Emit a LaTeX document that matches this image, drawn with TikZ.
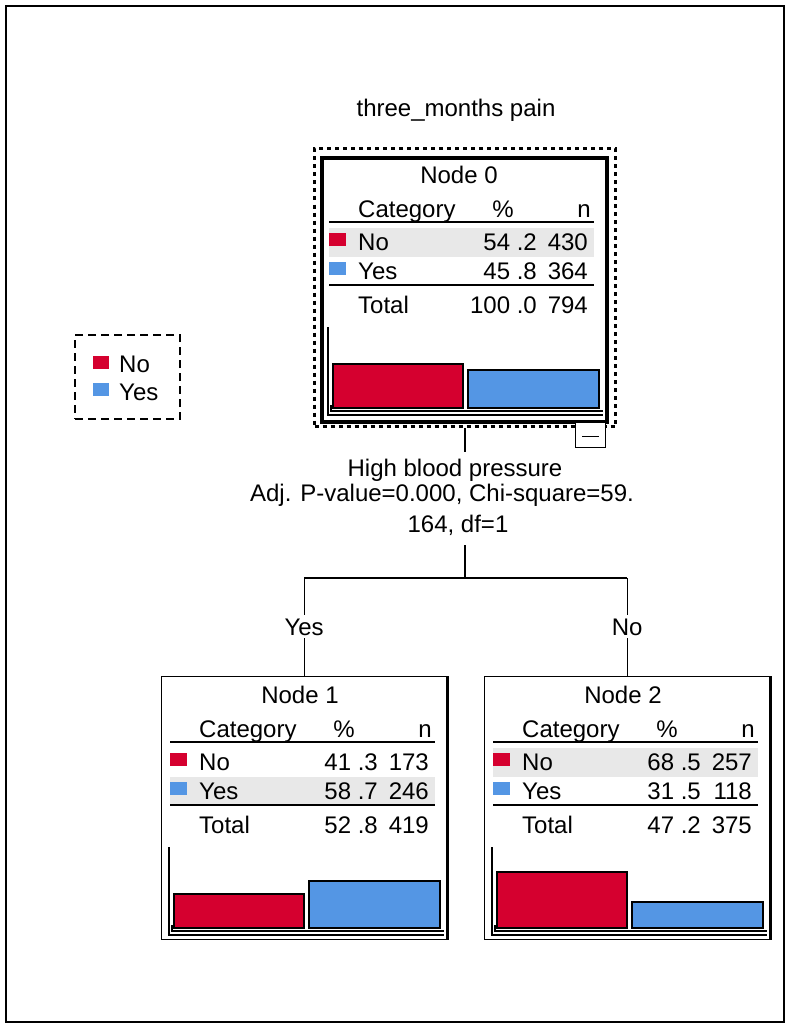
\documentclass[tikz,border=0pt]{standalone}
\usepackage{fontspec}
\setmainfont{Liberation Sans}
\definecolor{spssred}{RGB}{213,0,47}
\definecolor{spssblue}{RGB}{84,150,228}
\definecolor{bandgray}{RGB}{232,232,232}
% #1 name, #2 title, #3 band top, #4 p1, #5 n1, #6 p2, #7 n2, #8 total p, #9 total n
\newcommand\chaidtable[9]{%
  \fill[bandgray] (9,#3) rectangle (274,#3+29);
  \node[ct] (#1t) at (139,27) {#2};
  \node[lt] (#1c) at (38,61) {Category};
  \node[ct] (#1p) at (183,61) {\%};
  \node[rt] (#1n) at (271,61) {n};
  \draw[rule] (9,66) -- (274,66);
  \fill[spssred] (9,77) rectangle (26,90);
  \node[lt] (#1a) at (38,94) {No};
  \node[rt] (#1ap) at (217,94) {#4};
  \node[rt] (#1an) at (268,94) {#5};
  \fill[spssblue] (9,106) rectangle (26,119);
  \node[lt] (#1b) at (38,123) {Yes};
  \node[rt] (#1bp) at (217,123) {#6};
  \node[rt] (#1bn) at (268,123) {#7};
  \draw[rule] (9,129) -- (274,129);
  \node[lt] (#1s) at (38,157) {Total};
  \node[rt] (#1sp) at (217,157) {#8};
  \node[rt] (#1sn) at (268,157) {#9};
  \draw[axis] (8,171) -- (8,259) -- (283,259);
  \draw[axis] (11,249) -- (11,255) -- (283,255);
  \draw[bar, fill=spssred] (13,252) rectangle (143,252-\redh);
  \draw[bar, fill=spssblue] (148,252) rectangle (279,252-\blueh);
}
\begin{document}
\begin{tikzpicture}[x=1pt,y=-1pt,
  txt/.style={font=\fontsize{24}{27}\selectfont, inner sep=0pt},
  ct/.style={txt,anchor=base},
  lt/.style={txt,anchor=base west},
  rt/.style={txt,anchor=base east},
  lab/.style={font=\fontsize{24}{27}\selectfont, inner xsep=0pt, inner ysep=8pt, anchor=base},
  brlab/.style={font=\fontsize{24}{27}\selectfont, inner xsep=0pt, inner ysep=3pt, anchor=base},
  rule/.style={line width=1.5pt},
  axis/.style={line width=1.1pt},
  conn/.style={line width=1.3pt},
  nbox/.style={draw, line width=1.3pt, minimum width=285pt, minimum height=263pt, anchor=north west, inner sep=0pt},
  bar/.style={draw=black, line width=1.3pt},
]
\useasboundingbox (0,0) rectangle (790,1025);
\draw[line width=2pt] (6,6) rectangle (784,1022);

% title
\node[ct] (title) at (456,116) {three\_months pain};

% legend
\node[draw, line width=2pt, dash pattern=on 8pt off 5pt, minimum width=105pt, minimum height=84pt, anchor=north west, inner sep=0pt] (legend) at (74,334) {};
\fill[spssred] (93,356) rectangle (109,369);
\node[lt] (legno) at (119,372) {No};
\fill[spssblue] (93,383) rectangle (109,396);
\node[lt] (legyes) at (119,400) {Yes};

% node 0
\node[draw, line width=3pt, dash pattern=on 4pt off 4pt, minimum width=301pt, minimum height=278pt, anchor=north west, inner sep=0pt] (n0dot) at (313,147) {};
\begin{scope}[shift={(320,156)}]
  \node[nbox, line width=4pt, minimum height=264pt] (n0) at (0,0) {};
  \def\redh{44}\def\blueh{38}
  \chaidtable{n0}{Node 0}{72}{54 .2}{430}{45 .8}{364}{100 .0}{794}
\end{scope}
\node[draw, fill=white, line width=1.3pt, minimum width=30pt, minimum height=25pt, anchor=north west, inner sep=0pt] (n0minus) at (575,422) {};
\draw[line width=1.3pt] ([xshift=-8.5pt,yshift=-1.5pt]n0minus.center) -- ++(17,0);

% split labels
\node[lab, inner ysep=6pt] (sp1) at (455,476) {High blood pressure};
\node[lab] (sp2) at (442,501) {Adj. P-value=0.000, Chi-square=59.};
\node[lab, inner ysep=10pt] (sp3) at (458,532) {164, df=1};
\coordinate (hbaux) at (0,578);

% node 1
\begin{scope}[shift={(161,676)}]
  \node[nbox] (n1) at (0,0) {};
  \draw[line width=2.5pt] (n1.north east) -- (n1.south east);
  \def\redh{34}\def\blueh{47}
  \chaidtable{n1}{Node 1}{101}{41 .3}{173}{58 .7}{246}{52 .8}{419}
\end{scope}

% node 2
\begin{scope}[shift={(484,676)}]
  \node[nbox] (n2) at (0,0) {};
  \draw[line width=2.5pt] (n2.north east) -- (n2.south east);
  \def\redh{56}\def\blueh{26}
  \chaidtable{n2}{Node 2}{72}{68 .5}{257}{31 .5}{118}{47 .2}{375}
\end{scope}

% branch labels
\node[brlab] (lyes) at (n1.north |- 0,635) {Yes};
\node[brlab] (lno) at (n2.north |- 0,635) {No};

% connectors
\draw[conn] (n0dot.south) -- (n0dot.south |- sp1.north);
\draw[conn] (n0dot.south |- sp3.south) -- (n0dot.south |- hbaux);
\draw[conn] (lyes.north |- hbaux) -- (lno.north |- hbaux);
\draw[conn] (lyes.north |- hbaux) -- (lyes.north);
\draw[conn] (lno.north |- hbaux) -- (lno.north);
\draw[conn] (lyes.south) -- (n1.north);
\draw[conn] (lno.south) -- (n2.north);
\end{tikzpicture}
\end{document}
